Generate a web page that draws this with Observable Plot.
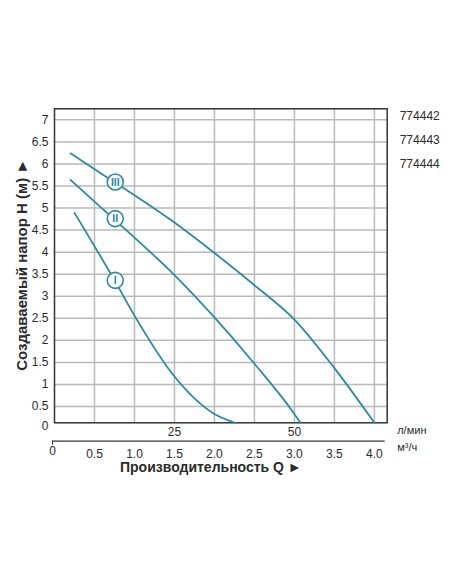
<!DOCTYPE html>
<html>
<head>
<meta charset="utf-8">
<script src="https://cdn.jsdelivr.net/npm/d3@7"></script>
<script src="https://cdn.jsdelivr.net/npm/@observablehq/plot@0.6"></script>
<style>
  body { margin: 0; background: #fff; }
</style>
</head>
<body>
<div id="chart"></div>
<script>
// flow Q in m³/h, head H in m
const curveI = [
  {q: 0.25, h: 4.89}, {q: 0.76, h: 3.33}, {q: 1.0, h: 2.56}, {q: 1.5, h: 1.18},
  {q: 2.0, h: 0.33}, {q: 2.26, h: 0.13}
];
const curveII = [
  {q: 0.2, h: 5.64}, {q: 0.76, h: 4.72}, {q: 1.0, h: 4.33}, {q: 1.5, h: 3.48},
  {q: 2.0, h: 2.52}, {q: 2.5, h: 1.47}, {q: 3.0, h: 0.33}, {q: 3.075, h: 0.13}
];
const curveIII = [
  {q: 0.2, h: 6.24}, {q: 0.76, h: 5.57}, {q: 1.0, h: 5.29}, {q: 1.5, h: 4.67},
  {q: 2.0, h: 3.98}, {q: 2.5, h: 3.25}, {q: 3.0, h: 2.47}, {q: 3.5, h: 1.37},
  {q: 4.0, h: 0.13}
];
const markers = [
  {q: 0.76, h: 3.36, label: "I"},
  {q: 0.76, h: 4.76, label: "II"},
  {q: 0.76, h: 5.59, label: "III"}
];
const codes = ["774442", "774443", "774444"];

const hTicks = [0.5, 1, 1.5, 2, 2.5, 3, 3.5, 4, 4.5, 5, 5.5, 6, 6.5, 7];
const qTicks = [0.5, 1.0, 1.5, 2.0, 2.5, 3.0, 3.5, 4.0];
const lpmTicks = [25, 50];   // l/min on the inner scale

const teal = "#2a8c9d";
const grid = "#b9b9b9";
const ink = "#2b2b2b";
const font = "Liberation Sans, Arial, sans-serif";

const lineOpts = {x: "q", y: "h", stroke: teal, strokeWidth: 1.8, curve: "monotone-x"};

let plot = Plot.plot({
  width: 452,
  height: 584,
  marginLeft: 54,
  marginRight: 65.3,
  marginTop: 108.3,
  marginBottom: 161.7,
  x: {domain: [0, 4.16]},
  y: {domain: [0.13, 7.25]},
  style: {fontFamily: font, fontSize: "12px", color: ink, background: "#fff", overflow: "visible"},
  marks: [
    Plot.ruleX(qTicks, {stroke: grid, strokeWidth: 1.5}),
    Plot.ruleY(hTicks, {stroke: grid, strokeWidth: 1.5}),
    Plot.frame({stroke: "#333", strokeWidth: 1.5}),

    Plot.line(curveI, lineOpts),
    Plot.line(curveII, lineOpts),
    Plot.line(curveIII, lineOpts),

    Plot.dot(markers, {x: "q", y: "h", r: 8, fill: "#fff", stroke: teal, strokeWidth: 1.6}),
    Plot.text(markers, {x: "q", y: "h", text: "label", fill: teal, fontSize: 10.5, fontWeight: "bold", dy: 0.5}),

    // head axis
    Plot.axisY({ticks: hTicks, tickFormat: (d) => String(d), tickSize: 0, tickPadding: 6, fontSize: 12, label: null}),
    Plot.axisY({ticks: [0], tickFormat: (d) => String(d), tickSize: 0, tickPadding: 6, fontSize: 12, dy: -2, label: null}),

    // inner scale, l/min
    Plot.axisX({ticks: lpmTicks.map(v => v * 60 / 1000), tickFormat: (d) => String(Math.round(d * 1000 / 60)),
      tickSize: 0, tickPadding: 5, fontSize: 12, label: null}),

    // outer scale, m³/h
    Plot.ruleY([0.13], {x1: 0, x2: 4.16, dx: -2, dy: 18.4, stroke: "#333", strokeWidth: 1.2}),
    Plot.axisX({ticks: [0], tickFormat: (d) => String(d), tickSize: 4, tickPadding: 1, dx: -2, dy: 18.4,
      stroke: "#333", fontSize: 12, label: null}),
    Plot.axisX({ticks: qTicks, tickFormat: d3.format(".1f"), tickSize: 0, tickPadding: 0, dy: 26.5, fontSize: 12, label: null}),

    // unit labels
    Plot.text(["л/мин"], {frameAnchor: "bottom-right", textAnchor: "start", lineAnchor: "middle",
      dx: 10, dy: 8, fontSize: 11, fill: ink}),
    Plot.text(["м³/ч"], {frameAnchor: "bottom-right", textAnchor: "start", lineAnchor: "middle",
      dx: 10, dy: 24.5, fontSize: 11, fill: ink}),

    // model codes
    Plot.text([codes.join("\n")], {frameAnchor: "top-right", textAnchor: "start", lineAnchor: "top",
      lineHeight: 2, dx: 12.5, dy: -5.5, fontSize: 12, fill: ink}),

    // titles
    Plot.text(["Создаваемый напор H (м) ►"], {frameAnchor: "left", textAnchor: "middle", lineAnchor: "middle",
      rotate: -90, dx: -32, dy: -1, fontSize: 15, fontWeight: "bold", fill: ink}),
    Plot.text(["Производительность Q ►"], {frameAnchor: "bottom", textAnchor: "middle", lineAnchor: "middle",
      dx: -10, dy: 45, fontSize: 14, fontWeight: "bold", fill: ink})
  ]
});

document.getElementById("chart").append(plot);
</script>
</body>
</html>
